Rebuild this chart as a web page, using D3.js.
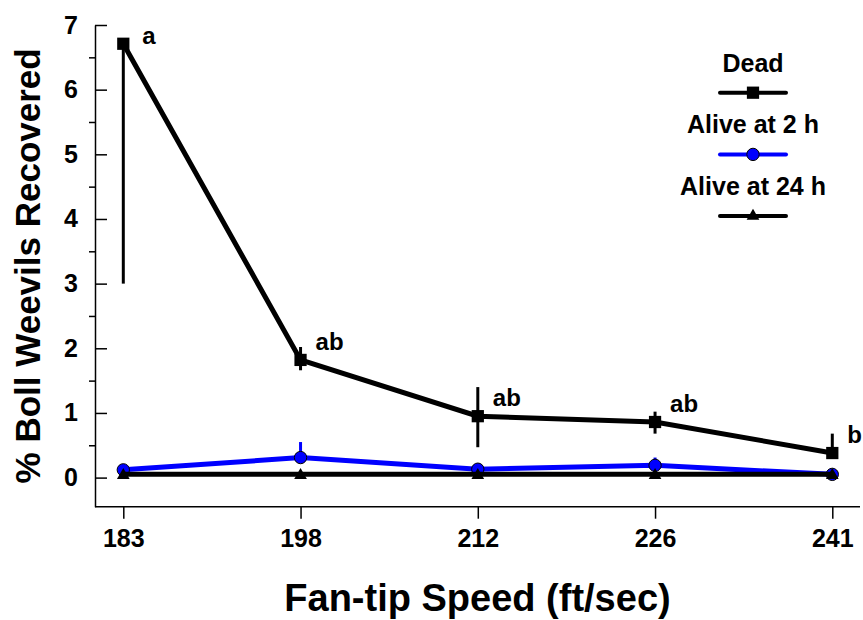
<!DOCTYPE html>
<html>
<head>
<meta charset="utf-8">
<script src="https://cdn.jsdelivr.net/npm/d3@7"></script>
<style>
  html, body { margin: 0; padding: 0; background: #fff; }
  svg { display: block; font-family: "Liberation Sans", Arial, sans-serif; font-weight: bold; }
</style>
</head>
<body>
<div id="chart"></div>
<script>
'use strict';

// ------------------------------------
// DATA
// ------------------------------------
const speeds = ["183", "198", "212", "226", "241"];

const deadMean = [6.71, 1.82, 0.95, 0.86, 0.38];
const deadLow  = [3.00, 1.66, 0.47, 0.68, 0.38];
const deadHigh = [6.71, 2.02, 1.40, 1.02, 0.68];

const alive2Mean = [0.12, 0.31, 0.13, 0.19, 0.05];
const alive2Low  = [0.12, 0.31, 0.13, 0.19, 0.05];
const alive2High = [0.12, 0.55, 0.13, 0.31, 0.05];

const alive24Mean = [0.05, 0.05, 0.05, 0.05, 0.05];

const sigLetters = ["a", "ab", "ab", "ab", "b"];

const yMajorTicks = [0, 1, 2, 3, 4, 5, 6, 7];
const yMinorTicks = [0.5, 1.5, 2.5, 3.5, 4.5, 5.5, 6.5];

const legendLabels = ["Dead", "Alive at 2 h", "Alive at 24 h"];

// ------------------------------------
// SETUP
// ------------------------------------
const width = 863;
const height = 620;

const axisLeftX = 95;
const axisBottomY = 506.7;
const axisRightX = 860;

const blue = "#0000ff";

const x = d3.scalePoint()
  .domain(speeds)
  .range([123.3, 832.3]);

const y = d3.scaleLinear()
  .domain([-0.45, 7])
  .range([axisBottomY, 25]);

const svg = d3.select("#chart")
  .append("svg")
  .attr("width", width)
  .attr("height", height);

// ------------------------------------
// AXES
// ------------------------------------
// major ticks point inward, minor ticks point outward
svg.append("g")
  .attr("transform", `translate(${axisLeftX},0)`)
  .call(d3.axisLeft(y).tickValues(yMajorTicks).tickSize(-12).tickSizeOuter(0).tickPadding(17))
  .call(g => g.selectAll("text").attr("font-size", 25).attr("font-weight", "bold").attr("fill", "#000"))
  .call(g => g.selectAll("line, path").attr("stroke", "#000").attr("stroke-width", 1.5));

svg.append("g")
  .attr("transform", `translate(${axisLeftX},0)`)
  .call(d3.axisLeft(y).tickValues(yMinorTicks).tickSize(6).tickFormat(""))
  .call(g => g.select(".domain").remove())
  .call(g => g.selectAll("line").attr("stroke", "#000").attr("stroke-width", 1.5));

svg.append("g")
  .attr("transform", `translate(0,${axisBottomY})`)
  .call(d3.axisBottom(x).tickSize(12).tickPadding(11))
  .call(g => g.select(".domain").remove())
  .call(g => g.selectAll("text").attr("font-size", 25).attr("font-weight", "bold").attr("fill", "#000"))
  .call(g => g.selectAll("line").attr("stroke", "#000").attr("stroke-width", 1.5));

svg.append("line")
  .attr("x1", axisLeftX).attr("x2", axisRightX)
  .attr("y1", axisBottomY).attr("y2", axisBottomY)
  .attr("stroke", "#000")
  .attr("stroke-width", 1.5);

// Axis titles
svg.append("text")
  .attr("transform", `translate(40,${(y(7) + y(-0.45)) / 2}) rotate(-90)`)
  .attr("text-anchor", "middle")
  .attr("font-size", 35)
  .text("% Boll Weevils Recovered");

svg.append("text")
  .attr("x", (axisLeftX + axisRightX) / 2)
  .attr("y", 611)
  .attr("text-anchor", "middle")
  .attr("font-size", 38)
  .text("Fan-tip Speed (ft/sec)");

// ------------------------------------
// SERIES
// ------------------------------------
const line = d3.line()
  .x(d => x(d.speed))
  .y(d => y(d.value));

function toPoints(means) {
  return speeds.map((s, i) => ({ speed: s, value: means[i] }));
}

function errorBars(g, low, high, color) {
  g.selectAll(null)
    .data(speeds.map((s, i) => ({ speed: s, lo: low[i], hi: high[i] })).filter(d => d.hi > d.lo))
    .join("line")
    .attr("x1", d => x(d.speed)).attr("x2", d => x(d.speed))
    .attr("y1", d => y(d.lo)).attr("y2", d => y(d.hi))
    .attr("stroke", color)
    .attr("stroke-width", 3);
}

const symSquare = d3.symbol().type(d3.symbolSquare).size(150);
const symCircle = d3.symbol().type(d3.symbolCircle).size(120);
const symTriangle = d3.symbol().type(d3.symbolTriangle).size(70);

// Dead
const gDead = svg.append("g");
errorBars(gDead, deadLow, deadHigh, "#000");
gDead.append("path")
  .datum(toPoints(deadMean))
  .attr("fill", "none")
  .attr("stroke", "#000")
  .attr("stroke-width", 5)
  .attr("d", line);
gDead.selectAll(null)
  .data(toPoints(deadMean))
  .join("path")
  .attr("transform", d => `translate(${x(d.speed)},${y(d.value)})`)
  .attr("d", symSquare)
  .attr("fill", "#000");

// Alive at 2 h
const gAlive2 = svg.append("g");
errorBars(gAlive2, alive2Low, alive2High, blue);
gAlive2.append("path")
  .datum(toPoints(alive2Mean))
  .attr("fill", "none")
  .attr("stroke", blue)
  .attr("stroke-width", 5)
  .attr("d", line);
gAlive2.selectAll(null)
  .data(toPoints(alive2Mean))
  .join("path")
  .attr("transform", d => `translate(${x(d.speed)},${y(d.value)})`)
  .attr("d", symCircle)
  .attr("fill", blue)
  .attr("stroke", "#000")
  .attr("stroke-width", 1);

// Alive at 24 h
const gAlive24 = svg.append("g");
gAlive24.append("path")
  .datum(toPoints(alive24Mean))
  .attr("fill", "none")
  .attr("stroke", "#000")
  .attr("stroke-width", 5)
  .attr("d", line);
gAlive24.selectAll(null)
  .data(toPoints(alive24Mean))
  .join("path")
  .attr("transform", d => `translate(${x(d.speed)},${y(d.value) + 1})`)
  .attr("d", symTriangle)
  .attr("fill", "#000");

// Significance letters beside the Dead means
svg.selectAll(".sig")
  .data(toPoints(deadMean))
  .join("text")
  .attr("class", "sig")
  .attr("x", (d, i) => x(d.speed) + (i === 0 ? 19 : 15))
  .attr("y", (d, i) => y(d.value) + (i === 0 ? 0 : -10))
  .attr("font-size", 24)
  .text((d, i) => sigLetters[i]);

// ------------------------------------
// LEGEND
// ------------------------------------
const legendX = 753;
const legendSymbols = [symSquare, symCircle, symTriangle];
const legendColors = ["#000", blue, "#000"];

const legend = svg.append("g");
legendLabels.forEach((label, i) => {
  const top = 71.7 + i * 61.7;
  legend.append("text")
    .attr("x", legendX)
    .attr("y", top)
    .attr("text-anchor", "middle")
    .attr("font-size", 25)
    .text(label);
  legend.append("line")
    .attr("x1", legendX - 33).attr("x2", legendX + 33)
    .attr("y1", top + 21).attr("y2", top + 21)
    .attr("stroke", legendColors[i])
    .attr("stroke-width", 4)
    .attr("stroke-linecap", "round");
  legend.append("path")
    .attr("transform", `translate(${legendX},${top + 21})`)
    .attr("d", legendSymbols[i])
    .attr("fill", legendColors[i])
    .attr("stroke", i === 1 ? "#000" : "none")
    .attr("stroke-width", 1);
});
</script>
</body>
</html>
